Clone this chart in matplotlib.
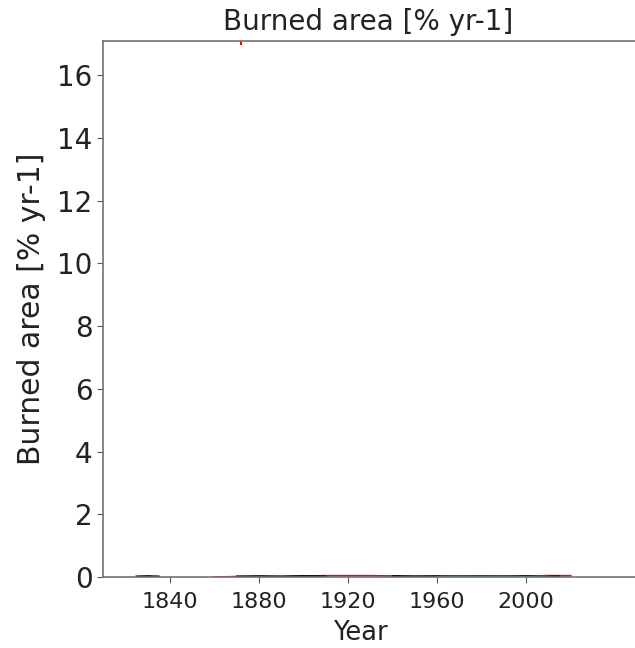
import numpy as np
import matplotlib.pyplot as plt

# burned area series (all hug zero except one red outlier)
obs_years = [1825, 1830, 1835, 1840, 1850, 1860, 1870, 1880, 1890, 1900, 1910, 1920,
             1930, 1940, 1950, 1960, 1970, 1980, 1990, 2000, 2010, 2015]
obs_vals = [0.02, 0.03, 0.02, np.nan, np.nan, np.nan, 0.02, 0.03, 0.02, 0.03, 0.02, np.nan,
            np.nan, 0.03, 0.02, 0.03, 0.02, 0.03, 0.02, 0.03, 0.02, 0.02]

mod_years = [1860, 1870, 1880, 1890, 1900, 1910, 1920, 1930, 1940, 1950, 1960, 1970,
             1980, 1990, 2000, 2010, 2020]
mod_vals = [0.0, 0.01, 0.0, 0.01, 0.03, 0.04, 0.04, 0.04, 0.03, 0.02, 0.01, 0.02,
            0.01, 0.02, 0.03, 0.04, 0.04]

sat_years = [1960, 1970, 1980, 1990, 2000, 2005, 2010]
sat_vals = [0.01, 0.03, 0.02, 0.03, 0.01, 0.03, 0.04]

outlier_years = [1872]
outlier_vals = [17.1]

xticks = [1840, 1880, 1920, 1960, 2000]
yticks = [0, 2, 4, 6, 8, 10, 12, 14, 16]

fig = plt.figure(figsize=(6.35, 6.48), dpi=100)
# axes runs past the right edge of the figure, as in the cropped original
ax = fig.add_axes([103 / 635, 1 - 577 / 648, 597 / 635, 536 / 648])

ax.plot(mod_years, mod_vals, color='red', lw=1.3)
ax.plot(obs_years, obs_vals, color='black', lw=1.3)
ax.plot(sat_years, sat_vals, color='green', lw=1.3)
ax.plot(outlier_years, outlier_vals, ls='none', marker='|', color='red',
        markersize=6, markeredgewidth=1.5)

ax.set_xlim(1810, 2078)
ax.set_ylim(0, 17.09)
ax.set_xticks(xticks)
ax.set_yticks(yticks)
ax.tick_params(axis='x', labelsize=16, length=4, pad=6.5, color='0.35', labelcolor='#222222')
ax.tick_params(axis='y', labelsize=20, length=4, color='0.35', labelcolor='#222222')
for s in ax.spines.values():
    s.set_color('0.45')
    s.set_linewidth(1.2)

ax.set_title('Burned area [% yr-1]', fontsize=20, color='#222222', pad=8,
             x=(368 - 103) / 597)
ax.set_ylabel('Burned area [% yr-1]', fontsize=21.5, color='#222222', labelpad=8)
ax.set_xlabel('Year', fontsize=18.5, color='#222222', labelpad=6)
ax.xaxis.set_label_coords((360 - 103) / 597, -0.081)

fig.savefig('out.png', dpi=100)
